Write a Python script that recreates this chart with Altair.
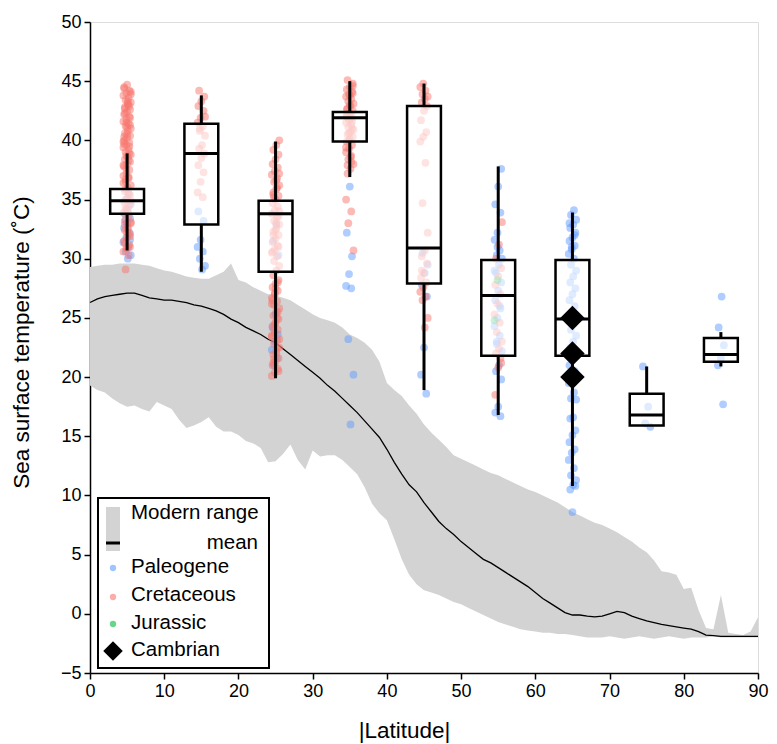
import altair as alt
import pandas as pd

# ---------------- Modern range (1-degree latitude grid) ----------------
LAT = list(range(0, 91))
UPPER = [29.3, 29.4, 29.5, 29.5, 29.6, 29.6, 29.6, 29.5, 29.4, 29.2,
         29.0, 28.9, 28.7, 28.5, 28.4, 28.3, 28.3, 28.6, 28.9, 29.6,
         28.2, 28.0, 27.6, 27.3, 27.0, 26.9, 26.7, 26.5, 26.1, 25.7,
         25.3, 25.0, 24.8, 24.6, 24.2, 23.6, 23.3, 22.9, 22.3, 21.3,
         19.5, 18.9, 18.4, 17.6, 16.9, 16.0, 15.3, 14.7, 14.1, 13.4,
         13.1, 12.8, 12.5, 12.2, 11.9, 11.7, 11.4, 11.1, 10.8, 10.5,
         10.3, 10.0, 9.7, 9.4, 9.0, 8.6, 8.3, 8.0, 7.7, 7.5,
         7.2, 6.9, 6.5, 6.1, 5.6, 5.2, 4.5, 3.6, 3.5, 3.3,
         2.1, 2.2, 0.3, -1.2, -1.3, 1.6, -1.6, -1.7, -1.8, -1.5,
         -0.3]
LOWER = [19.3, 18.9, 18.7, 18.2, 17.8, 17.5, 17.6, 17.3, 17.1, 17.9,
         17.6, 17.3, 16.4, 15.7, 15.9, 16.2, 16.6, 15.8, 15.4, 15.4,
         15.1, 14.6, 14.4, 14.0, 12.8, 12.9, 13.5, 14.3, 13.0, 12.2,
         13.8, 13.3, 13.4, 13.4, 13.0, 12.4, 11.8, 10.7, 9.3, 8.5,
         7.9, 6.3, 4.6, 3.3, 2.5, 2.0, 1.8, 1.6, 1.3, 1.0,
         0.8, 0.5, 0.2, -0.1, -0.4, -0.7, -0.9, -1.1, -1.3, -1.4,
         -1.5, -1.6, -1.6, -1.7, -1.7, -1.8, -1.9, -2.0, -2.0, -2.0,
         -1.9, -2.0, -2.1, -2.0, -1.9, -2.0, -2.1, -2.0, -1.9, -2.0,
         -2.1, -2.0, -2.0, -2.0, -1.9, -2.0, -2.0, -2.0, -2.0, -2.0,
         -2.0]
MEAN = [26.3, 26.6, 26.8, 26.9, 27.0, 27.1, 27.1, 26.9, 26.7, 26.6,
        26.5, 26.5, 26.4, 26.3, 26.1, 26.0, 25.8, 25.6, 25.3, 24.9,
        24.6, 24.2, 23.9, 23.6, 23.2, 22.9, 22.4, 21.9, 21.4, 20.9,
        20.4, 19.9, 19.3, 18.8, 18.2, 17.6, 17.0, 16.3, 15.6, 14.9,
        13.9, 12.8, 11.8, 10.9, 10.3, 9.4, 8.6, 7.8, 7.2, 6.7,
        6.1, 5.6, 5.1, 4.6, 4.3, 3.9, 3.5, 3.1, 2.7, 2.3,
        1.8, 1.3, 0.9, 0.5, 0.1, -0.1, -0.1, -0.2, -0.25, -0.2,
        0.0, 0.2, 0.1, -0.2, -0.4, -0.6, -0.75, -0.9, -1.0, -1.1,
        -1.2, -1.3, -1.5, -1.8, -1.85, -1.9, -1.9, -1.9, -1.9, -1.9,
        -1.9]

# ---------------- Box plot statistics per 10-degree bin ----------------
BIN_LAT = [5, 15, 25, 35, 45, 55, 65, 75, 85]
WHISK_LO = [30.7, 28.9, 19.9, 36.9, 18.9, 16.8, 10.8, 15.9, 20.9]
Q1 = [33.8, 32.9, 28.9, 39.9, 27.9, 21.8, 21.8, 15.9, 21.3]
MEDIAN = [34.9, 38.9, 33.8, 41.9, 30.9, 26.9, 24.9, 16.8, 21.9]
Q3 = [35.9, 41.4, 34.9, 42.4, 42.9, 29.9, 29.9, 18.6, 23.3]
WHISK_HI = [38.9, 43.8, 39.9, 45.0, 44.8, 37.8, 33.9, 20.9, 23.8]

# ---------------- Proxy SST points ----------------
B5_CRET = [44.7, 44.4, 44.2, 44.0, 43.8, 43.6, 43.4, 43.2, 43.0, 42.8, 42.6, 42.4,
           42.2, 42.0, 41.8, 41.6, 41.4, 41.2, 41.0, 40.8, 40.6, 40.4, 40.2, 40.0,
           39.8, 39.6, 39.4, 39.2, 39.0, 38.8, 38.6, 38.4, 38.2, 38.0, 37.8, 37.5,
           37.2, 37.0, 36.8, 36.5, 36.2, 36.0, 35.7, 35.4, 35.1, 34.8, 34.5, 34.2,
           33.9, 33.6, 33.3, 33.0, 32.7, 32.4, 32.1, 31.8, 31.5, 31.2, 30.9, 30.6,
           30.3, 29.1, 43.9, 43.1, 42.7, 41.9, 41.1, 40.3, 39.5, 38.7, 37.9, 36.9,
           35.9, 34.9, 33.9, 32.9, 31.9, 30.9, 44.5, 42.9, 41.5, 39.9, 38.3, 36.7,
           44.1, 43.3, 42.3, 41.3, 40.5, 39.7, 38.9, 37.6, 36.4, 35.5, 34.3, 33.1,
           32.5, 31.3, 31.0, 32.2]
B5_PALEO = [35.5, 35.0, 34.6, 34.2, 33.8, 33.4, 33.0, 32.6, 32.2, 31.8, 31.4, 31.0,
            30.6, 30.3, 30.0, 33.2, 31.6]
B15_CRET = [44.2, 43.7, 43.3, 42.9, 42.5, 41.9, 41.5, 41.2, 40.8, 40.4, 39.6, 39.3,
            38.9, 38.5, 37.9, 37.3, 36.5, 35.6, 35.2, 41.0, 42.0]
B15_PALEO = [34.0, 33.2, 31.6, 31.0, 30.6, 30.0, 29.4, 29.1]
B25_CRET = [40.0, 39.6, 39.2, 38.8, 38.4, 38.0, 37.7, 37.4, 37.1, 36.8, 36.5, 36.2,
            35.9, 35.6, 35.3, 35.0, 34.7, 34.4, 34.1, 33.8, 33.5, 33.2, 32.9, 32.6,
            32.3, 32.0, 31.7, 31.4, 31.1, 30.8, 30.5, 30.2, 29.8, 29.4, 29.0, 28.6,
            28.2, 27.9, 27.6, 27.3, 27.0, 26.7, 26.4, 26.1, 25.8, 25.5, 25.2, 24.9,
            24.6, 24.3, 24.0, 23.7, 23.4, 23.1, 22.8, 22.5, 22.2, 21.9, 21.6, 21.3,
            21.0, 20.7, 20.4, 20.1, 36.0, 35.2, 34.0, 33.0, 32.0, 31.0, 27.5, 26.5,
            25.5, 24.5, 23.5, 22.5, 21.5, 37.2, 36.6, 35.4, 33.6, 32.4, 30.6, 28.0,
            27.1, 26.2, 25.0, 24.0, 23.2, 22.0, 21.2, 20.5]
B25_PALEO = [32.9, 31.5, 30.3, 25.3, 24.2, 23.6, 23.0, 22.3, 21.6, 21.0]
B35_CRET = [45.1, 44.8, 44.5, 44.3, 44.1, 43.9, 43.7, 43.5, 43.3, 43.1, 42.9, 42.7,
            42.5, 42.3, 42.1, 41.9, 41.7, 41.5, 41.3, 41.1, 40.9, 40.7, 40.5, 40.3,
            40.1, 39.9, 39.6, 39.3, 39.0, 38.7, 38.4, 38.0, 37.6, 37.2, 44.0, 43.0,
            42.0, 41.0, 40.0, 35.0, 34.0, 33.0, 30.7, 38.6, 37.9, 44.6, 43.8, 42.6,
            41.6, 40.6, 39.4, 38.2]
B35_PALEO = [36.1, 32.2, 30.2, 28.7, 27.7, 27.5, 23.2, 20.2, 16.0]
B45_CRET = [44.8, 44.5, 44.2, 43.9, 43.7, 43.5, 43.2, 42.9, 42.5, 41.7, 40.7, 40.3,
            39.9, 38.1, 34.7, 32.2, 30.7, 30.2, 29.6, 28.8, 28.4, 28.0, 27.6, 27.2,
            26.8, 26.5, 25.0, 24.2, 29.0]
B45_PALEO = [30.5, 29.5, 28.8, 27.8, 26.8, 22.5, 20.2, 18.6]
B55_PALEO = [37.6, 36.1, 34.6, 33.9, 32.2, 31.6, 30.7, 30.3, 30.0, 29.5, 28.8, 28.0,
             27.3, 26.5, 25.8, 25.0, 24.3, 23.5, 22.8, 22.2, 21.0, 20.5, 19.8, 17.5,
             17.0, 16.7, 31.0, 29.0, 26.0, 23.0]
B55_CRET = [33.1, 31.2, 30.0, 29.2, 28.5, 27.8, 27.0, 26.2, 25.3, 24.6, 23.8, 23.0,
            22.4, 22.0, 21.2, 20.8, 18.5, 21.6]
B55_JURA = [28.2, 24.8]
B65_PALEO = [34.1, 33.7, 33.3, 32.9, 32.6, 32.2, 31.8, 31.5, 31.1, 30.8, 30.4, 30.0,
             29.5, 29.0, 28.5, 28.0, 27.5, 27.0, 26.5, 26.0, 25.5, 25.0, 24.5, 24.0,
             23.5, 23.0, 22.5, 22.0, 21.5, 21.0, 20.5, 20.0, 19.5, 18.7, 18.2, 18.1,
             16.6, 16.5, 15.5, 15.1, 14.5, 13.9, 13.6, 13.0, 12.3, 11.7, 11.3, 10.9,
             10.5, 10.8, 8.6, 33.0, 32.0, 31.0]
B75_PALEO = [20.9, 17.5, 16.1, 15.8]
B85_PALEO = [26.8, 24.2, 22.7, 21.6, 21.0, 17.7]

CAMBRIAN_LAT = [65, 65, 65]
CAMBRIAN_SST = [25, 22, 20]

PERIODS = ["Paleogene", "Cretaceous", "Jurassic"]
COLORS = ["#619CFF", "#F8766D", "#00BA38"]

# ---------------- Tables ----------------
modern = pd.DataFrame({"lat": LAT, "upper": UPPER, "lower": LOWER, "mean": MEAN})
boxes = pd.DataFrame({"lat": BIN_LAT, "lo": WHISK_LO, "q1": Q1, "med": MEDIAN,
                      "q3": Q3, "hi": WHISK_HI})

groups = [
    (5, "Paleogene", B5_PALEO), (5, "Cretaceous", B5_CRET),
    (15, "Paleogene", B15_PALEO), (15, "Cretaceous", B15_CRET),
    (25, "Paleogene", B25_PALEO), (25, "Cretaceous", B25_CRET),
    (35, "Paleogene", B35_PALEO), (35, "Cretaceous", B35_CRET),
    (45, "Paleogene", B45_PALEO), (45, "Cretaceous", B45_CRET),
    (55, "Paleogene", B55_PALEO), (55, "Cretaceous", B55_CRET), (55, "Jurassic", B55_JURA),
    (65, "Paleogene", B65_PALEO),
    (75, "Paleogene", B75_PALEO),
    (85, "Paleogene", B85_PALEO),
]
rows = []
for lat, per, vals in groups:
    for v in vals:
        rows.append({"lat": lat, "sst": v, "period": per})
points = pd.DataFrame(rows)
cambrian = pd.DataFrame({"lat": CAMBRIAN_LAT, "sst": CAMBRIAN_SST})
one = pd.DataFrame({"k": [0]})

FONT = "Liberation Sans"
W, H = 668, 651
xs = alt.Scale(domain=[0, 90], nice=False, zero=False)
ys = alt.Scale(domain=[-5, 50], nice=False, zero=False)

xaxis = alt.Axis(title="|Latitude|", values=list(range(0, 91, 10)), labelFlush=False,
                 grid=False, domainColor="black", domainWidth=1.5, tickColor="black",
                 tickWidth=1.5, tickSize=6, labelFontSize=18, labelColor="black",
                 labelFont=FONT, labelPadding=3, titleFontSize=22.5, titleFont=FONT,
                 titleFontWeight="normal", titleColor="black", titleX=314, titleY=57,
                 titleBaseline="middle", titleAlign="center")
yaxis = alt.Axis(title="Sea surface temperature (\u02daC)", values=list(range(-5, 51, 5)),
                 labelFlush=False, grid=False, domainColor="black", domainWidth=1.5,
                 tickColor="black", tickWidth=1.5, tickSize=6, labelFontSize=18,
                 labelColor="black", labelFont=FONT, labelPadding=3, titleFontSize=22.5,
                 titleFont=FONT, titleFontWeight="normal", titleColor="black",
                 titleX=-69, titleY=320, titleAngle=270, titleBaseline="middle",
                 titleAlign="center")


def X(f):
    return alt.X(f, type="quantitative", scale=xs, axis=xaxis)


def Y(f):
    return alt.Y(f, type="quantitative", scale=ys, axis=yaxis)


band = alt.Chart(modern).mark_area(color="#d3d3d3", opacity=1).encode(
    x=X("lat"), y=Y("lower"), y2="upper")
mean_line = alt.Chart(modern).mark_line(color="black", strokeWidth=1.3).encode(
    x=X("lat"), y=Y("mean"))

pts = alt.Chart(points).transform_window(
    rn="row_number()"
).transform_calculate(
    jlat="datum.lat + ((datum.rn * 7) % 11 - 5) * 0.1"
).mark_circle(size=60, opacity=0.5).encode(
    x=X("jlat"), y=Y("sst"),
    color=alt.Color("period:N", scale=alt.Scale(domain=PERIODS, range=COLORS), legend=None))

box_base = alt.Chart(boxes).transform_calculate(
    bx1="datum.lat - 2.28", bx2="datum.lat + 2.28")
wl = box_base.mark_rule(color="black", strokeWidth=3).encode(x=X("lat"), y=Y("lo"), y2="q1")
wh = box_base.mark_rule(color="black", strokeWidth=3).encode(x=X("lat"), y=Y("q3"), y2="hi")
rect = box_base.mark_rect(fill="white", fillOpacity=0.6, stroke="black",
                          strokeWidth=2.5).encode(x=X("bx1:Q"), x2="bx2:Q", y=Y("q1"), y2="q3")
med = box_base.mark_rule(color="black", strokeWidth=3).encode(
    x=X("bx1:Q"), x2="bx2:Q", y=Y("med"))

camb = alt.Chart(cambrian).mark_point(shape="diamond", filled=True, size=600,
                                      color="black", opacity=1).encode(x=X("lat"), y=Y("sst"))


# ---------------- Legend (drawn manually) ----------------
def lg_rect(x1, x2, y1, y2, **kw):
    return alt.Chart(one).mark_rect(**kw).encode(
        x=alt.value(x1), x2=alt.value(x2), y=alt.value(y1), y2=alt.value(y2))


def lg_text(txt, x, y, align="left"):
    return alt.Chart(one).mark_text(text=txt, align=align, baseline="middle", fontSize=20.5,
                                    font=FONT, color="black").encode(
        x=alt.value(x), y=alt.value(y))


def lg_dot(color, y):
    return alt.Chart(one).mark_circle(size=40, color=color, opacity=0.6).encode(
        x=alt.value(23), y=alt.value(y))


legend = [
    lg_rect(8, 179, 476, 646, fill="white", stroke="black", strokeWidth=2),
    lg_rect(16, 30, 485, 529, fill="#d3d3d3"),
    alt.Chart(one).mark_rule(color="black", strokeWidth=3).encode(
        x=alt.value(16), x2=alt.value(30), y=alt.value(521)),
    lg_text("Modern range", 41, 491),
    lg_text("mean", 168, 521, align="right"),
    lg_dot(COLORS[0], 546), lg_text("Paleogene", 41, 545),
    lg_dot(COLORS[1], 575), lg_text("Cretaceous", 41, 573),
    lg_dot(COLORS[2], 602), lg_text("Jurassic", 41, 601),
    alt.Chart(one).mark_point(shape="diamond", filled=True, size=380, color="black",
                              opacity=1).encode(x=alt.value(23), y=alt.value(629)),
    lg_text("Cambrian", 41, 628),
]

chart = alt.layer(band, mean_line, pts, wl, wh, rect, med, camb, *legend).properties(
    width=W, height=H,
    padding={"left": 82, "top": 14, "right": 11, "bottom": 70},
    autosize=alt.AutoSizeParams(type="none"),
).configure_view(stroke=None).configure(font=FONT)

chart.save("out.html", embed_options={"renderer": "svg", "actions": False})
